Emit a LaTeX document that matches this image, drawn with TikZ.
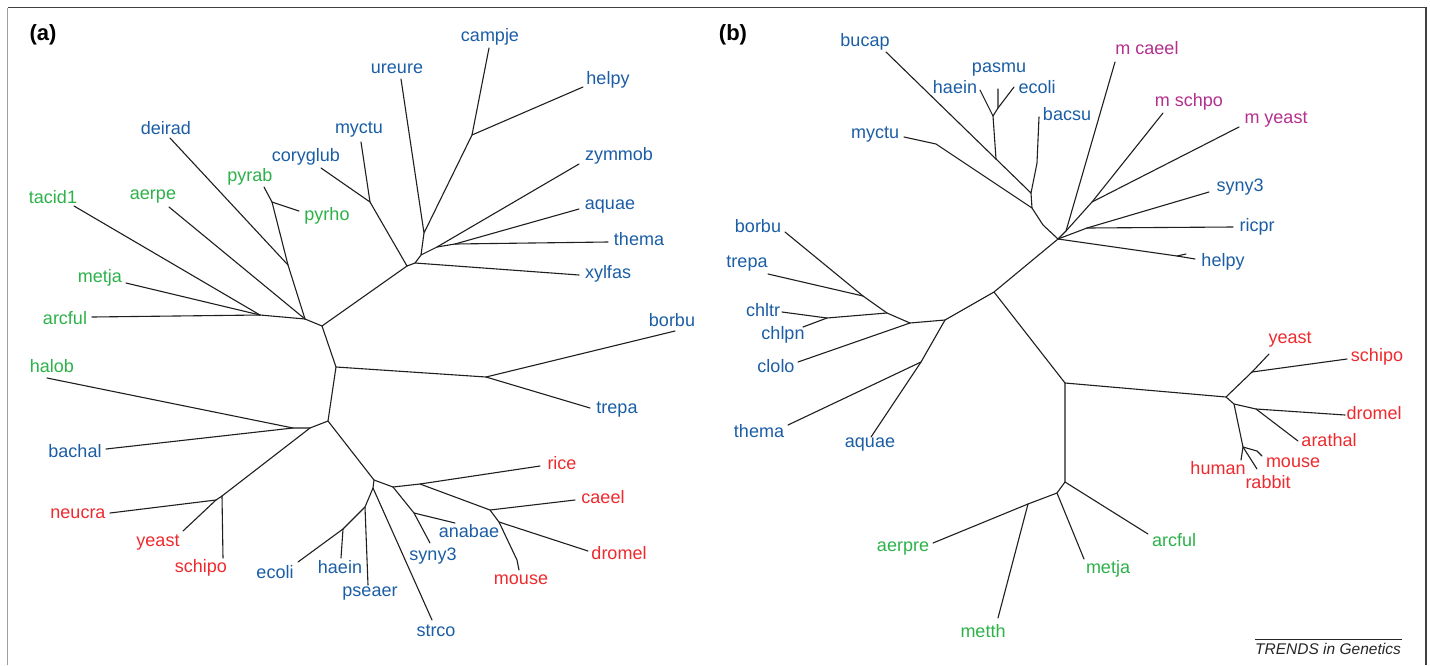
\documentclass[tikz,border=0pt]{standalone}
\usepackage{fontspec}
\setmainfont{Liberation Sans}
\definecolor{tblue}{HTML}{1B5EA6}
\definecolor{tgreen}{HTML}{2DB24A}
\definecolor{tred}{HTML}{EE2A2E}
\definecolor{tmag}{HTML}{B4308E}
\begin{document}
\begin{tikzpicture}[x=1pt,y=-1pt,
 br/.style={line width=1.1pt,draw=black!88,line cap=round,line join=round},
 lab/.style={font=\fontsize{18}{20}\selectfont,inner sep=0pt},
 bl/.style={lab,text=tblue}, gr/.style={lab,text=tgreen},
 rd/.style={lab,text=tred}, mg/.style={lab,text=tmag},
 panel/.style={font=\fontsize{22}{24}\selectfont\bfseries,inner sep=0pt}]
\useasboundingbox (0,0) rectangle (1430,665);
\fill[white] (0,0) rectangle (1430,665);
% frame
\coordinate (fbl) at (7.5,665); \coordinate (ftl) at (7.5,7.5);
\coordinate (ftr) at (1426,7.5); \coordinate (fbr) at (1426,665);
\draw[gray!75,line width=1.4pt] (fbl) -- (ftl);
\draw[black!75,line width=1.2pt] (ftl) -- (ftr) -- (fbr);

\node[panel] (pa) at (43,35) {(a)};
\node[panel] (pb) at (733,35) {(b)};

% ---------- tree (a) labels ----------
\node[bl] (a-campje) at (490,37) {campje};
\node[bl] (a-ureure) at (397,69) {ureure};
\node[bl] (a-helpy) at (608,80) {helpy};
\node[bl] (a-deirad) at (166,128) {deirad};
\node[bl] (a-myctu) at (359,130) {myctu};
\node[bl] (a-coryglub) at (306,157) {coryglub};
\node[bl] (a-zymmob) at (619,156) {zymmob};
\node[gr] (a-pyrab) at (250,177) {pyrab};
\node[gr] (a-tacid1) at (53,197) {tacid1};
\node[gr] (a-aerpe) at (153,197) {aerpe};
\node[bl] (a-aquae) at (610,207) {aquae};
\node[gr] (a-pyrho) at (327,216) {pyrho};
\node[bl] (a-thema) at (639,239) {thema};
\node[gr] (a-metja) at (100,278) {metja};
\node[bl] (a-xylfas) at (608,274) {xylfas};
\node[gr] (a-arcful) at (65,318) {arcful};
\node[bl] (a-borbu) at (672,320) {borbu};
\node[gr] (a-halob) at (52,366) {halob};
\node[bl] (a-trepa) at (617,410) {trepa};
\node[bl] (a-bachal) at (75,451) {bachal};
\node[rd] (a-rice) at (562,463) {rice};
\node[rd] (a-caeel) at (603,497) {caeel};
\node[rd] (a-neucra) at (78,514) {neucra};
\node[bl] (a-anabae) at (469,531) {anabae};
\node[rd] (a-yeast) at (158,543) {yeast};
\node[rd] (a-dromel) at (619,553) {dromel};
\node[bl] (a-syny3) at (433,556) {syny3};
\node[bl] (a-haein) at (340,567) {haein};
\node[rd] (a-schipo) at (201,568) {schipo};
\node[bl] (a-ecoli) at (275,572) {ecoli};
\node[rd] (a-mouse) at (521,580) {mouse};
\node[bl] (a-pseaer) at (370,594) {pseaer};
\node[bl] (a-strco) at (436,631) {strco};

% leaf ends (a)
\coordinate (a-campje-e) at (489,48);
\coordinate (a-ureure-e) at (401,79);
\coordinate (a-helpy-e) at (583,87);
\coordinate (a-deirad-e) at (170,138);
\coordinate (a-myctu-e) at (361,142);
\coordinate (a-coryglub-e) at (321,168);
\coordinate (a-zymmob-e) at (579,164);
\coordinate (a-pyrab-e) at (264,187);
\coordinate (a-tacid1-e) at (74,206);
\coordinate (a-aerpe-e) at (169,207);
\coordinate (a-aquae-e) at (579,209);
\coordinate (a-pyrho-e) at (299,211);
\coordinate (a-thema-e) at (608,242);
\coordinate (a-metja-e) at (126,283);
\coordinate (a-xylfas-e) at (579,275);
\coordinate (a-arcful-e) at (92,317);
\coordinate (a-borbu-e) at (675,331);
\coordinate (a-halob-e) at (47,378);
\coordinate (a-trepa-e) at (590,408);
\coordinate (a-bachal-e) at (106,449);
\coordinate (a-rice-e) at (540,466);
\coordinate (a-caeel-e) at (575,500);
\coordinate (a-neucra-e) at (110,513);
\coordinate (a-anabae-e) at (455,523);
\coordinate (a-yeast-e) at (183,531);
\coordinate (a-dromel-e) at (588,551);
\coordinate (a-syny3-e) at (430,543);
\coordinate (a-haein-e) at (341,558);
\coordinate (a-schipo-e) at (223,558);
\coordinate (a-ecoli-e) at (298,562);
\coordinate (a-mouse-e) at (519,570);
\coordinate (a-pseaer-e) at (368,585);
\coordinate (a-strco-e) at (432,620);

% internal (a)
\coordinate (aP1) at (305,319);
\coordinate (aPY) at (272,202);
\coordinate (aDE) at (288,265);
\coordinate (aTM) at (260,315);
\coordinate (aR1) at (322,326);
\coordinate (aQ1) at (407,266);
\coordinate (aMC) at (370,202);
\coordinate (aQ2) at (415,263);
\coordinate (aQ3) at (421,255);
\coordinate (aQ5) at (424,233);
\coordinate (aCH) at (472,135);
\coordinate (aQ4) at (437,247);
\coordinate (aQ6) at (455,244);
\coordinate (aR2) at (336,367);
\coordinate (aB1) at (486,377);
\coordinate (aR3) at (328,421);
\coordinate (aL1) at (310,428);
\coordinate (aL0) at (293,428);
\coordinate (aN1) at (222,496);
\coordinate (aN1a) at (216,500);
\coordinate (aR4) at (374,480);
\coordinate (aS2) at (373,488);
\coordinate (aS3) at (365,507);
\coordinate (aS4) at (343,529);
\coordinate (aS1) at (393,487);
\coordinate (aS6) at (414,513);
\coordinate (aS5) at (420,484);
\coordinate (aS7) at (490,510);
\coordinate (aS8) at (499,522);
\coordinate (aMO) at (517,560);

\draw[br] (a-campje-e) -- (aCH) -- (a-helpy-e);
\draw[br] (aCH) -- (aQ5) -- (a-ureure-e);
\draw[br] (aQ5) -- (aQ3) -- (aQ4) -- (a-zymmob-e);
\draw[br] (aQ4) -- (aQ6) -- (a-aquae-e);
\draw[br] (aQ6) -- (a-thema-e);
\draw[br] (aQ3) -- (aQ2) -- (a-xylfas-e);
\draw[br] (aQ2) -- (aQ1) -- (aMC) -- (a-myctu-e);
\draw[br] (aMC) -- (a-coryglub-e);
\draw[br] (aQ1) -- (aR1) -- (aP1) -- (a-aerpe-e);
\draw[br] (aP1) -- (aDE) -- (aPY) -- (a-pyrab-e);
\draw[br] (aPY) -- (a-pyrho-e);
\draw[br] (aDE) -- (a-deirad-e);
\draw[br] (aP1) -- (aTM) -- (a-tacid1-e);
\draw[br] (aTM) -- (a-metja-e);
\draw[br] (aTM) -- (a-arcful-e);
\draw[br] (aR1) -- (aR2) -- (aB1) -- (a-borbu-e);
\draw[br] (aB1) -- (a-trepa-e);
\draw[br] (aR2) -- (aR3) -- (aL1) -- (aL0) -- (a-halob-e);
\draw[br] (aL0) -- (a-bachal-e);
\draw[br] (aL1) -- (aN1) -- (a-schipo-e);
\draw[br] (aN1) -- (aN1a) -- (a-neucra-e);
\draw[br] (aN1a) -- (a-yeast-e);
\draw[br] (aR3) -- (aR4) -- (aS2) -- (a-strco-e);
\draw[br] (aS2) -- (aS3) -- (a-pseaer-e);
\draw[br] (aS3) -- (aS4) -- (a-haein-e);
\draw[br] (aS4) -- (a-ecoli-e);
\draw[br] (aR4) -- (aS1) -- (aS6) -- (a-anabae-e);
\draw[br] (aS6) -- (a-syny3-e);
\draw[br] (aS1) -- (aS5) -- (a-rice-e);
\draw[br] (aS5) -- (aS7) -- (a-caeel-e);
\draw[br] (aS7) -- (aS8) -- (a-dromel-e);
\draw[br] (aS8) -- (aMO) -- (a-mouse-e);

% ---------- tree (b) labels ----------
\node[bl] (b-bucap) at (865,42) {bucap};
\node[mg] (b-mcaeel) at (1147,48) {m caeel};
\node[bl] (b-pasmu) at (999,70) {pasmu};
\node[bl] (b-haein) at (955,87) {haein};
\node[bl] (b-ecoli) at (1037,87) {ecoli};
\node[mg] (b-mschpo) at (1189,102) {m schpo};
\node[bl] (b-bacsu) at (1067,114) {bacsu};
\node[mg] (b-myeast) at (1276,120) {m yeast};
\node[bl] (b-myctu) at (875,135) {myctu};
\node[bl] (b-syny3) at (1240,187) {syny3};
\node[bl] (b-borbu) at (758,226) {borbu};
\node[bl] (b-ricpr) at (1257,227) {ricpr};
\node[bl] (b-helpy) at (1223,262) {helpy};
\node[bl] (b-trepa) at (747,264) {trepa};
\node[bl] (b-chltr) at (763,310) {chltr};
\node[bl] (b-chlpn) at (783,335) {chlpn};
\node[rd] (b-yeast) at (1290,340) {yeast};
\node[rd] (b-schipo) at (1377,357) {schipo};
\node[bl] (b-clolo) at (776,366) {clolo};
\node[rd] (b-dromel) at (1374,413) {dromel};
\node[bl] (b-thema) at (759,431) {thema};
\node[rd] (b-arathal) at (1329,440) {arathal};
\node[bl] (b-aquae) at (870,445) {aquae};
\node[rd] (b-human) at (1218,468) {human};
\node[rd] (b-mouse) at (1293,463) {mouse};
\node[rd] (b-rabbit) at (1268,482) {rabbit};
\node[gr] (b-arcful) at (1174,540) {arcful};
\node[gr] (b-aerpre) at (903,549) {aerpre};
\node[gr] (b-metja) at (1108,569) {metja};
\node[gr] (b-metth) at (983,631) {metth};

% leaf ends (b)
\coordinate (b-bucap-e) at (886,52);
\coordinate (b-haein-e) at (980,90);
\coordinate (b-pasmu-e) at (998,89);
\coordinate (b-ecoli-e) at (1014,87);
\coordinate (b-bacsu-e) at (1039,117);
\coordinate (b-myctu-e) at (904,137);
\coordinate (b-mcaeel-e) at (1115,62);
\coordinate (b-mschpo-e) at (1163,113);
\coordinate (b-myeast-e) at (1239,127);
\coordinate (b-syny3-e) at (1209,192);
\coordinate (b-ricpr-e) at (1233,227);
\coordinate (b-helpy-e) at (1195,259);
\coordinate (b-borbu-e) at (785,232);
\coordinate (b-trepa-e) at (768,274);
\coordinate (b-chltr-e) at (782,312);
\coordinate (b-chlpn-e) at (803,327);
\coordinate (b-clolo-e) at (798,362);
\coordinate (b-thema-e) at (788,425);
\coordinate (b-aquae-e) at (871,437);
\coordinate (b-yeast-e) at (1269,354);
\coordinate (b-schipo-e) at (1347,359);
\coordinate (b-dromel-e) at (1345,415);
\coordinate (b-arathal-e) at (1298,441);
\coordinate (b-human-e) at (1241,460);
\coordinate (b-rabbit-e) at (1257,469);
\coordinate (b-mouse-e) at (1262,456);
\coordinate (b-arcful-e) at (1148,534);
\coordinate (b-metja-e) at (1084,559);
\coordinate (b-aerpre-e) at (933,543);
\coordinate (b-metth-e) at (998,618);

% internal (b)
\coordinate (bT2) at (996,159);
\coordinate (bT3) at (993,116);
\coordinate (bT4) at (998,108);
\coordinate (bT1) at (1031,193);
\coordinate (bBC) at (1037,163);
\coordinate (bT5) at (1032,208);
\coordinate (bMY) at (936,144);
\coordinate (bTC) at (1043,225);
\coordinate (bT0) at (1058,239);
\coordinate (bT6) at (1066,231);
\coordinate (bU1) at (1092,202);
\coordinate (bU2) at (1087,228);
\coordinate (bU3) at (1177,256);
\coordinate (bU3t) at (1186,254);
\coordinate (bV1) at (994,292);
\coordinate (bV3) at (945,320);
\coordinate (bV4) at (921,362);
\coordinate (bV5) at (910,323);
\coordinate (bV6) at (887,313);
\coordinate (bV7) at (863,296);
\coordinate (bV8) at (827,318);
\coordinate (bV2) at (1065,383);
\coordinate (bW1) at (1226,397);
\coordinate (bW2) at (1252,372);
\coordinate (bW3) at (1234,404);
\coordinate (bW4) at (1256,409);
\coordinate (bW5) at (1243,447);
\coordinate (bMO) at (1257,451);
\coordinate (bV9) at (1065,482);
\coordinate (bV10) at (1057,493);
\coordinate (bV11) at (1028,504);

\draw[br] (b-bucap-e) -- (bT2) -- (bT1) -- (bBC) -- (b-bacsu-e);
\draw[br] (bT2) -- (bT3) -- (b-haein-e);
\draw[br] (bT3) -- (bT4) -- (b-pasmu-e);
\draw[br] (bT4) -- (b-ecoli-e);
\draw[br] (bT1) -- (bT5) -- (bMY) -- (b-myctu-e);
\draw[br] (bT5) -- (bTC) -- (bT0);
\draw[br] (bT0) -- (bT6) -- (b-mcaeel-e);
\draw[br] (bT6) -- (bU1) -- (b-mschpo-e);
\draw[br] (bU1) -- (b-myeast-e);
\draw[br] (bT0) -- (bU2) -- (b-syny3-e);
\draw[br] (bU2) -- (b-ricpr-e);
\draw[br] (bT0) -- (bU3) -- (b-helpy-e);
\draw[br] (bU3) -- (bU3t);
\draw[br] (bT0) -- (bV1) -- (bV3) -- (bV4) -- (b-thema-e);
\draw[br] (bV4) -- (b-aquae-e);
\draw[br] (bV3) -- (bV5) -- (b-clolo-e);
\draw[br] (bV5) -- (bV6) -- (bV7) -- (b-borbu-e);
\draw[br] (bV7) -- (b-trepa-e);
\draw[br] (bV6) -- (bV8) -- (b-chltr-e);
\draw[br] (bV8) -- (b-chlpn-e);
\draw[br] (bV1) -- (bV2) -- (bW1) -- (bW2) -- (b-yeast-e);
\draw[br] (bW2) -- (b-schipo-e);
\draw[br] (bW1) -- (bW3) -- (bW4) -- (b-dromel-e);
\draw[br] (bW4) -- (b-arathal-e);
\draw[br] (bW3) -- (bW5) -- (b-human-e);
\draw[br] (bW5) -- (b-rabbit-e);
\draw[br] (bW5) -- (bMO) -- (b-mouse-e);
\draw[br] (bV2) -- (bV9) -- (b-arcful-e);
\draw[br] (bV9) -- (bV10) -- (b-metja-e);
\draw[br] (bV10) -- (bV11) -- (b-aerpre-e);
\draw[br] (bV11) -- (b-metth-e);

% credit
\node[font=\fontsize{15.5}{17}\selectfont\itshape,inner sep=0pt,text=black!85] (credit) at (1328,649) {TRENDS in Genetics};
\coordinate (cl) at (1255,639); \coordinate (cr) at (1402,639);
\draw[black!85,line width=0.9pt] (cl) -- (cr);
\end{tikzpicture}
\end{document}
